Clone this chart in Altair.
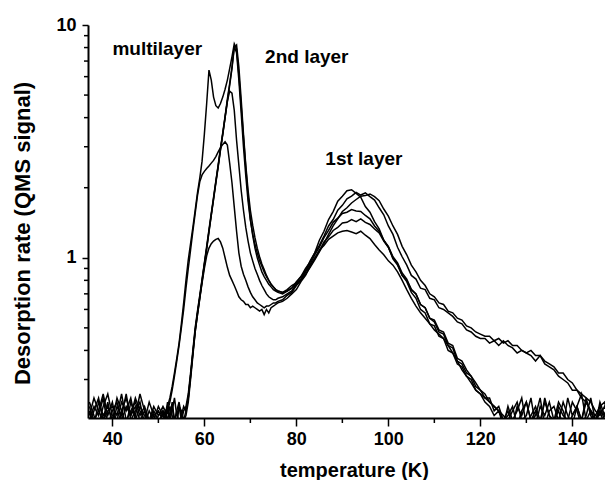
import altair as alt
import pandas as pd

# ---- temperature grid (K) ----
temps_a = [35, 36, 37, 38, 39, 40, 41, 42, 43, 44,
           45, 46, 47, 48, 49, 50, 51]
temps_b = [51.5, 52, 52.5, 53, 53.5, 54, 54.5, 55, 55.5, 56,
           56.5, 57, 57.5, 58, 58.5, 59, 59.5, 60, 60.5, 61,
           61.5, 62, 62.5, 63, 63.5, 64, 64.5, 65, 65.5, 66,
           66.5, 67, 67.5, 68, 68.5, 69, 69.5, 70, 70.5, 71,
           71.5, 72, 72.5, 73, 73.5, 74, 74.5, 75, 75.5, 76]
temps_c = [77, 78, 79, 80, 81, 82, 83, 84, 85, 86,
           87, 88, 89, 90, 91, 92, 93, 94, 95, 96,
           97, 98, 99, 100, 101, 102, 103, 104, 105, 106,
           107, 108, 109, 110, 111, 112, 113, 114, 115, 116,
           117, 118, 119, 120, 121, 122, 123, 124, 125, 126,
           127, 128, 129, 130, 131, 132, 133, 134, 135, 136,
           137, 138, 139, 140, 141, 142, 143, 144, 145, 146,
           147, 148]

# ---- desorption traces (QMS signal) ----
c1 = ([0.22, 0.19, 0.24, 0.21, 0.23, 0.20, 0.25, 0.22, 0.19, 0.24,
       0.21, 0.26, 0.22, 0.20, 0.23, 0.21, 0.22],
      [0.20, 0.23, 0.25, 0.28, 0.32, 0.37, 0.43, 0.52, 0.64, 0.80,
       0.98, 1.15, 1.35, 1.6, 1.9, 2.2, 2.6, 3.4, 4.6, 6.4,
       5.8, 4.9, 4.5, 4.4, 4.6, 4.9, 5.3, 5.8, 6.5, 7.3,
       8.3, 7.9, 6.1, 4.5, 3.3, 2.45, 1.85, 1.47, 1.25, 1.1,
       1.0, 0.93, 0.87, 0.83, 0.8, 0.77, 0.75, 0.73, 0.72, 0.71],
      [0.70, 0.72, 0.74, 0.79, 0.83, 0.90, 0.96, 1.05, 1.13, 1.24,
       1.37, 1.46, 1.6, 1.68, 1.79, 1.84, 1.91, 1.86, 1.9, 1.83,
       1.77, 1.64, 1.53, 1.37, 1.26, 1.11, 1.01, 0.93, 0.84, 0.81,
       0.74, 0.73, 0.67, 0.66, 0.61, 0.60, 0.58, 0.56, 0.53, 0.52,
       0.49, 0.48, 0.46, 0.45, 0.45, 0.43, 0.44, 0.42, 0.44, 0.42,
       0.41, 0.39, 0.40, 0.39, 0.38, 0.36, 0.38, 0.35, 0.34, 0.33,
       0.31, 0.30, 0.29, 0.27, 0.27, 0.25, 0.24, 0.22, 0.21, 0.23,
       0.20, 0.22])

c2 = ([0.20, 0.23, 0.21, 0.25, 0.19, 0.22, 0.24, 0.20, 0.23, 0.21,
       0.25, 0.22, 0.20, 0.24, 0.21, 0.19, 0.22],
      [0.21, 0.24, 0.20, 0.22, 0.25, 0.21, 0.23, 0.20, 0.22, 0.23,
       0.26, 0.32, 0.40, 0.50, 0.59, 0.69, 0.81, 0.95, 1.12, 1.32,
       1.55, 1.82, 2.14, 2.5, 2.95, 3.45, 4.05, 4.8, 5.6, 6.6,
       8.1, 7.6, 5.8, 4.2, 3.0, 2.25, 1.75, 1.45, 1.27, 1.14,
       1.05, 0.97, 0.92, 0.87, 0.83, 0.80, 0.77, 0.75, 0.73, 0.72],
      [0.71, 0.72, 0.74, 0.77, 0.80, 0.85, 0.91, 0.98, 1.06, 1.15,
       1.26, 1.37, 1.47, 1.58, 1.64, 1.72, 1.78, 1.84, 1.85, 1.88,
       1.83, 1.76, 1.62, 1.51, 1.37, 1.26, 1.12, 1.03, 0.93, 0.87,
       0.80, 0.76, 0.70, 0.68, 0.64, 0.63, 0.59, 0.58, 0.55, 0.54,
       0.51, 0.50, 0.48, 0.47, 0.46, 0.46, 0.44, 0.45, 0.43, 0.44,
       0.42, 0.42, 0.40, 0.39, 0.40, 0.38, 0.38, 0.36, 0.35, 0.34,
       0.32, 0.32, 0.30, 0.29, 0.27, 0.26, 0.25, 0.24, 0.22, 0.21,
       0.23, 0.21])

c3 = ([0.24, 0.21, 0.19, 0.23, 0.26, 0.21, 0.20, 0.24, 0.22, 0.25,
       0.20, 0.23, 0.21, 0.19, 0.22, 0.20, 0.21],
      [0.22, 0.20, 0.23, 0.21, 0.19, 0.22, 0.24, 0.21, 0.20, 0.21,
       0.24, 0.30, 0.38, 0.48, 0.57, 0.67, 0.79, 0.93, 1.09, 1.29,
       1.52, 1.78, 2.1, 2.45, 2.9, 3.4, 4.0, 4.7, 5.5, 6.5,
       8.0, 8.2, 6.6, 4.8, 3.4, 2.5, 1.95, 1.6, 1.38, 1.22,
       1.10, 1.01, 0.94, 0.89, 0.84, 0.80, 0.77, 0.75, 0.73, 0.72],
      [0.71, 0.73, 0.76, 0.78, 0.83, 0.88, 0.97, 1.05, 1.19, 1.30,
       1.46, 1.58, 1.75, 1.84, 1.94, 1.96, 1.89, 1.82, 1.66, 1.57,
       1.43, 1.33, 1.19, 1.11, 0.99, 0.93, 0.84, 0.80, 0.73, 0.70,
       0.63, 0.61, 0.55, 0.53, 0.48, 0.47, 0.42, 0.41, 0.36, 0.35,
       0.32, 0.31, 0.28, 0.27, 0.25, 0.25, 0.22, 0.23, 0.20, 0.21,
       0.23, 0.19, 0.22, 0.24, 0.20, 0.21, 0.25, 0.19, 0.22, 0.23,
       0.20, 0.24, 0.21, 0.19, 0.23, 0.26, 0.20, 0.22, 0.19, 0.24,
       0.21, 0.25])

c4 = ([0.21, 0.25, 0.22, 0.20, 0.24, 0.19, 0.23, 0.21, 0.26, 0.20,
       0.22, 0.24, 0.19, 0.22, 0.20, 0.23, 0.21],
      [0.20, 0.22, 0.21, 0.24, 0.20, 0.19, 0.23, 0.22, 0.20, 0.22,
       0.25, 0.31, 0.39, 0.49, 0.58, 0.68, 0.80, 0.94, 1.10, 1.30,
       1.53, 1.80, 2.12, 2.48, 2.92, 3.4, 4.0, 4.7, 5.2, 5.1,
       4.3, 3.2, 2.5, 1.95, 1.6, 1.35, 1.18, 1.05, 0.97, 0.90,
       0.85, 0.80, 0.76, 0.73, 0.70, 0.68, 0.67, 0.66, 0.66, 0.67],
      [0.68, 0.70, 0.72, 0.77, 0.81, 0.88, 0.94, 1.03, 1.11, 1.22,
       1.31, 1.42, 1.48, 1.55, 1.57, 1.61, 1.59, 1.58, 1.52, 1.47,
       1.37, 1.30, 1.19, 1.12, 1.01, 0.95, 0.86, 0.81, 0.73, 0.70,
       0.63, 0.61, 0.55, 0.54, 0.49, 0.48, 0.43, 0.42, 0.37, 0.36,
       0.33, 0.31, 0.29, 0.27, 0.26, 0.24, 0.23, 0.22, 0.21, 0.20,
       0.22, 0.24, 0.20, 0.21, 0.25, 0.19, 0.23, 0.21, 0.24, 0.20,
       0.22, 0.19, 0.25, 0.21, 0.23, 0.20, 0.24, 0.22, 0.20, 0.23,
       0.24, 0.20])

c5 = ([0.23, 0.20, 0.22, 0.26, 0.21, 0.24, 0.19, 0.22, 0.25, 0.21,
       0.23, 0.20, 0.22, 0.19, 0.21, 0.22, 0.20],
      [0.21, 0.22, 0.24, 0.27, 0.31, 0.36, 0.42, 0.50, 0.60, 0.74,
       0.90, 1.08, 1.30, 1.55, 1.85, 2.12, 2.27, 2.35, 2.42, 2.48,
       2.55, 2.62, 2.72, 2.85, 2.97, 3.07, 3.15, 3.05, 2.55, 2.1,
       1.65, 1.3, 1.05, 0.92, 0.85, 0.80, 0.75, 0.71, 0.68, 0.66,
       0.64, 0.63, 0.62, 0.61, 0.62, 0.62, 0.63, 0.64, 0.64, 0.65],
      [0.66, 0.69, 0.71, 0.76, 0.80, 0.87, 0.92, 1.00, 1.07, 1.17,
       1.23, 1.31, 1.35, 1.41, 1.42, 1.46, 1.43, 1.47, 1.42, 1.39,
       1.33, 1.28, 1.18, 1.11, 1.00, 0.94, 0.84, 0.79, 0.71, 0.67,
       0.60, 0.58, 0.52, 0.51, 0.46, 0.45, 0.40, 0.39, 0.35, 0.34,
       0.31, 0.30, 0.27, 0.26, 0.24, 0.23, 0.21, 0.22, 0.19, 0.23,
       0.20, 0.22, 0.25, 0.19, 0.21, 0.23, 0.20, 0.24, 0.21, 0.19,
       0.23, 0.21, 0.20, 0.24, 0.22, 0.19, 0.21, 0.25, 0.20, 0.22,
       0.19, 0.23])

c6 = ([0.19, 0.22, 0.25, 0.20, 0.22, 0.23, 0.21, 0.26, 0.20, 0.22,
       0.24, 0.21, 0.23, 0.20, 0.19, 0.21, 0.23],
      [0.22, 0.19, 0.21, 0.23, 0.20, 0.22, 0.19, 0.21, 0.23, 0.22,
       0.25, 0.31, 0.39, 0.48, 0.57, 0.67, 0.78, 0.90, 1.02, 1.10,
       1.15, 1.18, 1.20, 1.21, 1.17, 1.10, 1.00, 0.91, 0.84, 0.80,
       0.76, 0.72, 0.68, 0.66, 0.65, 0.63, 0.63, 0.61, 0.62, 0.61,
       0.60, 0.59, 0.60, 0.57, 0.60, 0.58, 0.61, 0.62, 0.63, 0.64],
      [0.65, 0.67, 0.70, 0.73, 0.79, 0.84, 0.92, 0.99, 1.08, 1.13,
       1.20, 1.24, 1.28, 1.30, 1.31, 1.29, 1.27, 1.30, 1.25, 1.21,
       1.14, 1.08, 1.03, 0.97, 0.93, 0.87, 0.80, 0.73, 0.67, 0.62,
       0.58, 0.55, 0.52, 0.49, 0.47, 0.45, 0.42, 0.39, 0.36, 0.33,
       0.31, 0.29, 0.27, 0.26, 0.25, 0.24, 0.23, 0.22, 0.20, 0.22,
       0.19, 0.23, 0.21, 0.24, 0.20, 0.22, 0.19, 0.25, 0.21, 0.20,
       0.24, 0.22, 0.19, 0.21, 0.23, 0.20, 0.25, 0.21, 0.19, 0.22,
       0.21, 0.24])

# ---- axis ticks and annotations ----
x_major = [40, 60, 80, 100, 120, 140]
x_minor = [50, 70, 90, 110, 130]
y_major = [1, 10]
y_minor = [0.3, 0.4, 0.5, 0.6, 0.7, 0.8, 0.9, 2, 3, 4, 5, 6, 7, 8, 9]
note_text = ["multilayer", "2nd layer", "1st layer"]
note_t = [40.0, 73.2, 86.3]
note_v = [7.4, 6.9, 2.5]

W, H = 517, 393
FONT = "Liberation Sans"

temps = temps_a + temps_b + temps_c
rows = []
for name, parts in [("c1", c1), ("c2", c2), ("c3", c3), ("c4", c4), ("c5", c5), ("c6", c6)]:
    vals = parts[0] + parts[1] + parts[2]
    for t, v in zip(temps, vals):
        rows.append({"curve": name, "T": t, "v": v})
df = pd.DataFrame(rows)

xscale = alt.Scale(domain=[34.7, 147.1], nice=False, zero=False)
yscale = alt.Scale(type="log", domain=[0.205, 10], nice=False)

lines = alt.Chart(df).mark_line(color="black", strokeWidth=1.5, clip=True).encode(
    x=alt.X("T:Q", scale=xscale,
            axis=alt.Axis(values=x_major, title="temperature (K)", tickSize=8,
                          labelPadding=4, titleX=266, titleY=58,
                          titleBaseline="alphabetic", titleAlign="center")),
    y=alt.Y("v:Q", scale=yscale,
            axis=alt.Axis(values=y_major, labelExpr="datum.value >= 10 ? '10' : '1'",
                          title="Desorption rate (QMS signal)", tickSize=6,
                          labelPadding=6, titleX=-66, titleY=208, titleAngle=270,
                          titleAlign="center", titleBaseline="middle",
                          titleFontSize=22)),
    detail="curve:N",
    order="T:Q",
)

xminor = alt.Chart(pd.DataFrame({"T": x_minor})).mark_rule(color="black", strokeWidth=1.5).encode(
    x=alt.X("T:Q", scale=xscale), y=alt.value(H), y2=alt.value(H + 5))
yminor = alt.Chart(pd.DataFrame({"v": y_minor})).mark_rule(color="black", strokeWidth=1.5).encode(
    y=alt.Y("v:Q", scale=yscale), x=alt.value(0), x2=alt.value(-4))

notes = alt.Chart(pd.DataFrame({"label": note_text, "T": note_t, "v": note_v})).mark_text(
    align="left", baseline="alphabetic", font=FONT, fontSize=19, fontWeight="bold", color="black"
).encode(x=alt.X("T:Q", scale=xscale), y=alt.Y("v:Q", scale=yscale), text="label:N")

chart = alt.layer(lines, xminor, yminor, notes).properties(
    width=W, height=H,
    autosize=alt.AutoSizeParams(type="none"),
    padding={"left": 80, "top": 17, "right": 0, "bottom": 62},
).configure_view(stroke=None).configure_axis(
    grid=False, domainColor="black", domainWidth=2, tickColor="black", tickWidth=1.5,
    labelFont=FONT, labelFontWeight="bold", labelFontSize=18, labelColor="black",
    titleFont=FONT, titleFontWeight="bold", titleFontSize=20, titleColor="black",
)

chart.save("out.html", embed_options={"renderer": "svg", "actions": False})
